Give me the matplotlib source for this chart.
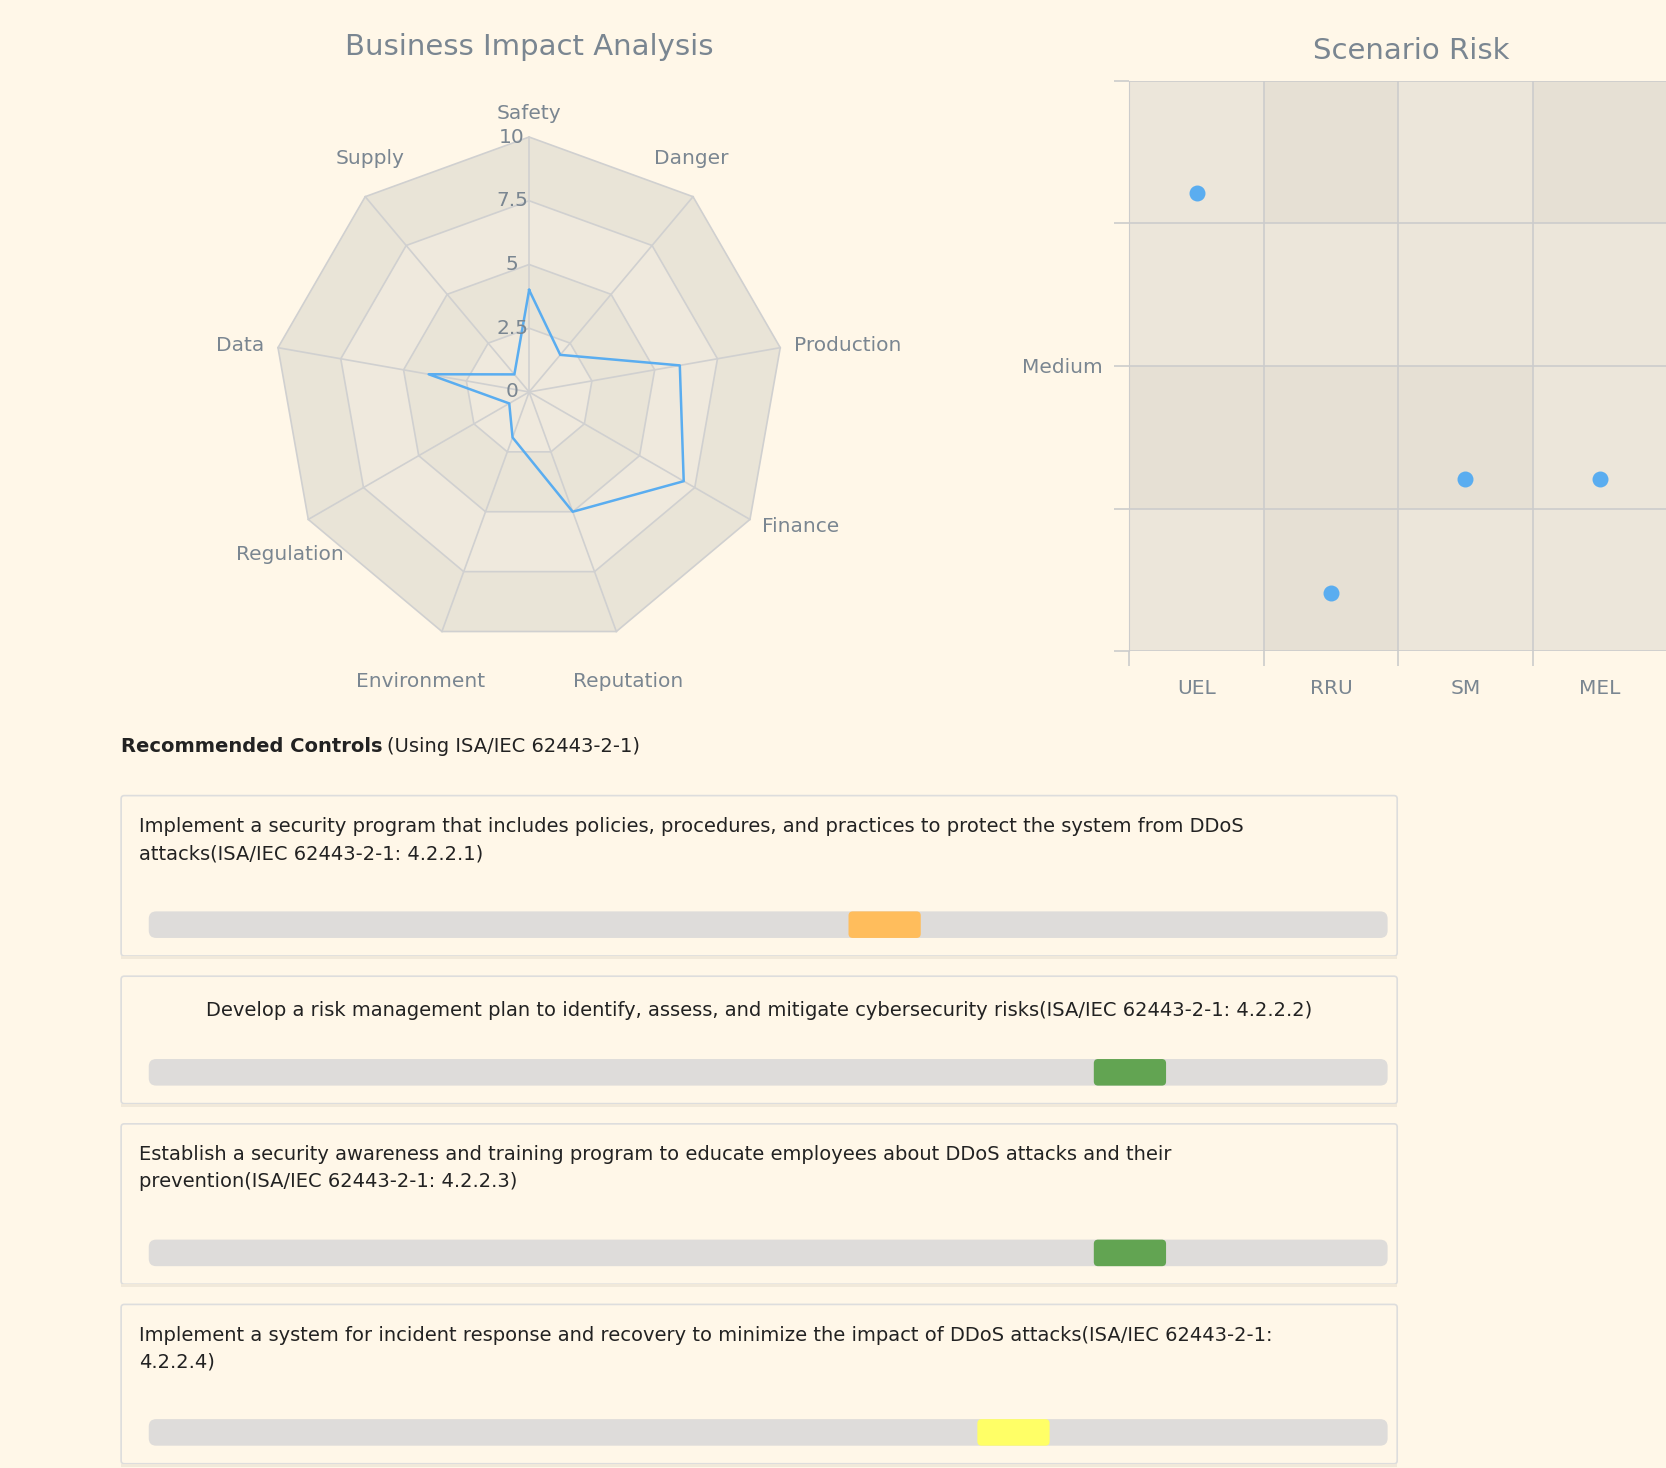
import numpy as np
import matplotlib.pyplot as plt
from matplotlib.patches import FancyBboxPatch, Polygon, Rectangle

# ---- data ----
axes_names = ["Safety", "Danger", "Production", "Finance", "Reputation",
              "Environment", "Regulation", "Data", "Supply"]
impact = [4.0, 1.9, 6.0, 7.0, 5.0, 1.9, 0.9, 4.0, 0.9]
radar_ticks = [0, 2.5, 5, 7.5, 10]

scen_names = ["UEL", "RRU", "SM", "MEL"]
scen_risk = [3.21, 0.41, 1.21, 1.21]

controls = [
    "Implement a security program that includes policies, procedures, and practices to protect the system from DDoS\nattacks(ISA/IEC 62443-2-1: 4.2.2.1)",
    "Develop a risk management plan to identify, assess, and mitigate cybersecurity risks(ISA/IEC 62443-2-1: 4.2.2.2)",
    "Establish a security awareness and training program to educate employees about DDoS attacks and their\nprevention(ISA/IEC 62443-2-1: 4.2.2.3)",
    "Implement a system for incident response and recovery to minimize the impact of DDoS attacks(ISA/IEC 62443-2-1:\n4.2.2.4)",
]
control_level = [0.594, 0.792, 0.792, 0.698]
control_color = ["#ffbd5c", "#62a452", "#62a452", "#ffff66"]

BG = "#fff7e8"
GREY = "#7a8691"
W, H = 1568, 1382

fig = plt.figure(figsize=(16.66, 14.68), dpi=100, facecolor=BG)
ov = fig.add_axes([0, 0, 1, 1])
ov.set_xlim(0, W)
ov.set_ylim(H, 0)
ov.axis("off")

# ---- radar ----
cx, cy, R = 498, 369, 240
n = len(axes_names)
ang = np.arange(n) * 2 * np.pi / n

def pt(v, a):
    return cx + R * v / 10 * np.sin(a), cy - R * v / 10 * np.cos(a)

band_cols = ["#efe9dd", "#e9e4d7", "#efe9dd", "#e9e4d7"]
for i in range(4, 0, -1):
    r = radar_ticks[i]
    poly = [pt(r, a) for a in ang]
    ov.add_patch(Polygon(poly, closed=True, fc=band_cols[i - 1], ec="#d0d0d0", lw=1.2, zorder=1))
for a in ang:
    x, y = pt(10, a)
    ov.plot([cx, x], [cy, y], color="#d0d0d0", lw=1.2, zorder=2)
pts = [pt(v, a) for v, a in zip(impact, ang)]
pts.append(pts[0])
ov.plot([p[0] for p in pts], [p[1] for p in pts], color="#5aadf0", lw=1.8, zorder=3)
for t in radar_ticks:
    ov.text(cx - 16, cy - R * t / 10, f"{t:g}", ha="center", va="center", fontsize=14.5, color=GREY, zorder=4)
for name, a in zip(axes_names, ang):
    x, y = pt(10.55, a)
    s = np.sin(a)
    ha = "center" if abs(s) < 0.1 else ("left" if s > 0 else "right")
    c = np.cos(a)
    va = "bottom" if c > 0.9 else ("top" if c < -0.9 else "center")
    if abs(c) > 0.5 and abs(s) > 0.1:
        x -= 45 * np.sign(s)
        y -= 26 * np.sign(c)
    ov.text(x, y, name, ha=ha, va=va, fontsize=14.5, color=GREY)
ov.text(cx, 44, "Business Impact Analysis", ha="center", va="center", fontsize=21, color=GREY)

# ---- scenario risk ----
ax = fig.add_axes([1063 / W, 1 - 613 / H, (1569 - 1063) / W, (613 - 76) / H])
ax.set_facecolor(BG)
shades = [["#ece6da", "#e6e0d4", "#ece6da", "#e6e0d4"],
          ["#ece6da", "#ece6da", "#ece6da", "#ece6da"],
          ["#e6e0d4", "#e6e0d4", "#e6e0d4", "#ece6da"],
          ["#ece6da", "#e6e0d4", "#ece6da", "#ece6da"]]
for r in range(4):
    for c in range(4):
        ax.add_patch(Rectangle((c, 3 - r), 1, 1, fc=shades[r][c], ec="none", zorder=0))
ax.scatter(np.arange(4) + 0.5, scen_risk, s=110, color="#5aadf0", zorder=3, clip_on=False)
ax.set_xlim(0, 4)
ax.set_ylim(0, 4)
ax.set_xticks([0, 1, 2, 3])
ax.set_xticks(np.arange(4) + 0.5, minor=True)
ax.set_xticklabels([])
ax.set_xticklabels(scen_names, minor=True, fontsize=14.5, color=GREY)
ax.set_yticks([0, 1, 2, 3, 4])
ax.set_yticklabels(["", "", "Medium", "", ""], fontsize=14.5, color=GREY)
ax.tick_params(axis="x", which="major", length=11, color="#cccccc", width=1.2)
ax.tick_params(axis="x", which="minor", length=0, pad=20)
ax.tick_params(axis="y", length=11, color="#cccccc", width=1.2, pad=8)
ax.grid(True, color="#cccccc", lw=1.2)
ax.set_axisbelow(False)
for s in ax.spines.values():
    s.set_visible(False)
ax.spines["left"].set_visible(True)
ax.spines["left"].set_color("#cccccc")
ax.set_title("Scenario Risk", fontsize=21, color=GREY, pad=16, x=(1328 - 1063) / (1569 - 1063))

# ---- controls ----
ov.text(114, 703, "Recommended Controls", fontsize=14, fontweight="bold", color="#222222", va="center")
ov.text(364, 703, "(Using ISA/IEC 62443-2-1)", fontsize=14, color="#222222", va="center")

cards = [(749, 900), (919, 1039), (1058, 1209), (1228, 1378)]
for (top, bot), txt, lvl, col in zip(cards, controls, control_level, control_color):
    ov.add_patch(FancyBboxPatch((114, top), 1201, bot - top, boxstyle="round,pad=0,rounding_size=3",
                                fc=BG, ec="#dddddd", lw=1.2))
    ov.add_patch(FancyBboxPatch((114, bot), 1201, 3, boxstyle="square,pad=0", fc="#f1e9da", ec="none"))
    if "\n" not in txt:
        ov.text(714, top + 32, txt, ha="center", va="center", fontsize=14, color="#222222")
    else:
        ov.text(131, top + 20, txt, ha="left", va="top", fontsize=14, color="#222222", linespacing=1.55)
    by = bot - 42
    ov.add_patch(FancyBboxPatch((140, by), 1166, 25, boxstyle="round,pad=0,rounding_size=7",
                                fc="#dedcda", ec="none"))
    cxp = 140 + lvl * 1166
    ov.add_patch(FancyBboxPatch((cxp - 34, by), 68, 25, boxstyle="round,pad=0,rounding_size=4",
                                fc=col, ec="none"))

fig.savefig("out.png", dpi=100, facecolor=BG)
